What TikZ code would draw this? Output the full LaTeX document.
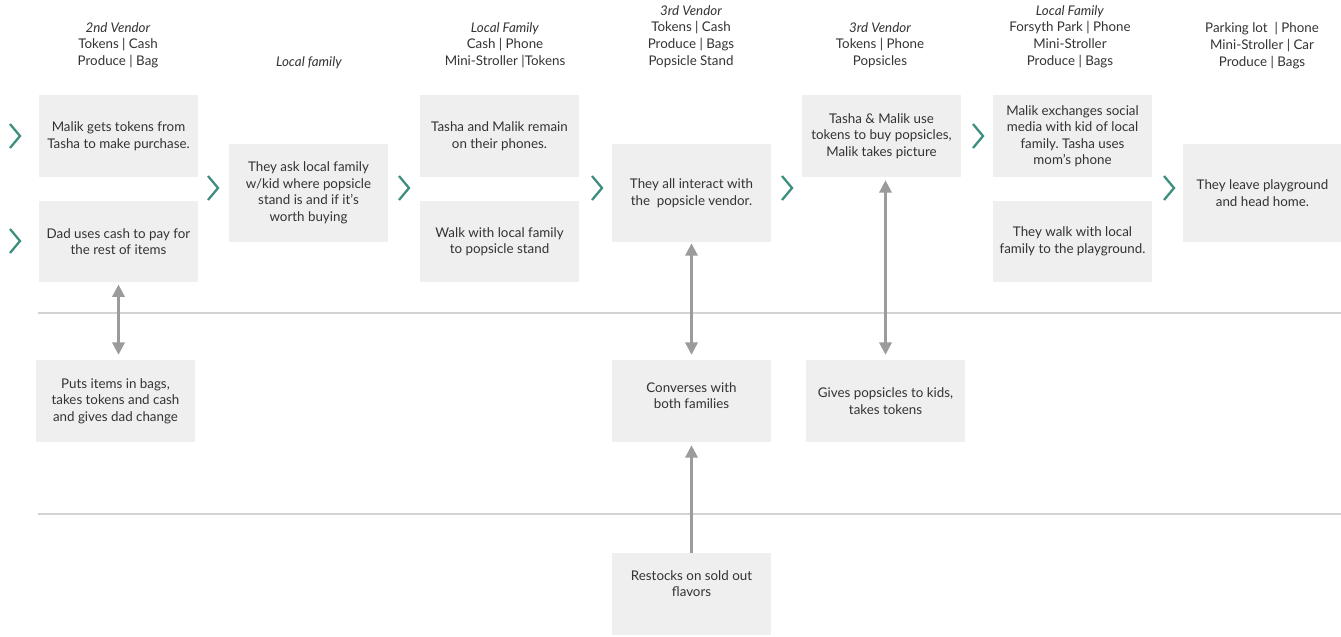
\documentclass[tikz,border=0pt]{standalone}
\usepackage{fontspec}
\setmainfont{Lato}
\frenchspacing
\usetikzlibrary{arrows.meta,positioning}
\definecolor{boxgray}{HTML}{EFEFEF}
\definecolor{rule}{HTML}{D3D3D3}
\definecolor{arrowgray}{HTML}{9B9B9B}
\definecolor{teal}{HTML}{3D8E7F}
\definecolor{ink}{HTML}{333333}
\newcommand{\chev}[2]{\draw[teal,line width=1.3pt,line join=miter] (#1-5,#2-12)--(#1+5,#2)--(#1-5,#2+12);}

\begin{document}
\begin{tikzpicture}[x=0.02cm,y=-0.02cm,font=\fontsize{7.6}{9.4}\selectfont,text=ink,
  stepbox/.style={fill=boxgray,minimum width=3.18cm,minimum height=1.64cm,align=center,inner sep=0pt},
  tallbox/.style={stepbox,minimum height=1.96cm},
  head/.style={align=center,anchor=north,font=\fontsize{7.6}{9.6}\selectfont},
  link/.style={arrowgray,line width=1.4pt,{Triangle[width=7pt,length=7pt]}-{Triangle[width=7pt,length=7pt]}},
  uplink/.style={arrowgray,line width=1.4pt,-{Triangle[width=7pt,length=7pt]}}]
\useasboundingbox (0,0) rectangle (1341,636);
% swimlane rules
\draw[rule,line width=1.1pt] (38,313)--(1341,313);\draw[rule,line width=1.1pt] (38,514)--(1341,514);
% headers
\node[head] (h1) at (118,16){\textit{2nd Vendor}\\Tokens | Cash\\Produce | Bag};
\node[head] (h2) at (309,50){\textit{Local family}};
\node[head] (h3) at (505,16){\textit{Local Family}\\Cash | Phone\\Mini-Stroller |Tokens};
\node[head] (h4) at (691,-1){\textit{3rd Vendor}\\Tokens | Cash\\Produce | Bags\\Popsicle Stand};
\node[head] (h5) at (880,16){\textit{3rd Vendor}\\Tokens | Phone\\Popsicles};
\node[head] (h6) at (1070,-1){\textit{Local Family}\\Forsyth Park | Phone\\Mini-Stroller\\Produce | Bags};
\node[head] (h7) at (1262,16){Parking lot~ | Phone\\Mini-Stroller | Car\\Produce | Bags};
% customer lane
\node[stepbox] (tokens) at (118.5,136){Malik gets tokens from\\Tasha to make purchase.};
\node[stepbox] (cash) at (118.5,241.5){Dad uses cash to pay for\\the rest of items};
\node[tallbox] (ask) at (308.5,193){They ask local family\\w/kid where popsicle\\stand is and if it's\\worth buying};
\node[stepbox] (phones) at (499.5,136){Tasha and Malik remain\\on their phones.};
\node[stepbox] (walk) at (499.5,241.5){Walk with local family\\to popsicle stand};
\node[tallbox] (interact) at (691.5,193){They all interact with\\the~ popsicle vendor.};
\node[stepbox] (buy) at (881.5,136){Tasha \& Malik use\\tokens to buy popsicles,\\Malik takes picture};
\node[stepbox] (social) at (1072.5,136){Malik exchanges social\\media with kid of local\\family. Tasha uses\\mom's phone};
\node[stepbox] (playground) at (1072.5,241.5){They walk with local\\family to the playground.};
\node[tallbox] (leave) at (1262.5,193){They leave playground\\and head home.};
% vendor lane
\node[stepbox] (bags) at (115.5,401){Puts items in bags,\\takes tokens and cash\\and gives dad change};
\node[stepbox,text depth=6pt] (converse) at (691.5,401){Converses with\\both families};
\node[stepbox] (gives) at (885.5,401){Gives popsicles to kids,\\takes tokens};
% backstage lane
\node[stepbox,text depth=12pt] (restock) at (691.5,594){Restocks on sold out\\flavors};
% chevrons
\chev{15}{136}\chev{15}{241}\chev{213}{188}\chev{404}{188}\chev{597}{188}\chev{787}{188}\chev{978}{136}\chev{1169}{188}
% links between lanes
\draw[link,shorten <=1pt,shorten >=2.8pt] (cash.south)--(cash.south |- bags.north);
\draw[link,shorten <=0.6pt,shorten >=2.8pt] (interact.south)--(converse.north);
\draw[link,shorten <=1.7pt,shorten >=2.8pt] (gives.north |- buy.south)--(gives.north);
\draw[uplink,shorten >=1.7pt] (restock.north)--(converse.south);
\end{tikzpicture}
\end{document}
